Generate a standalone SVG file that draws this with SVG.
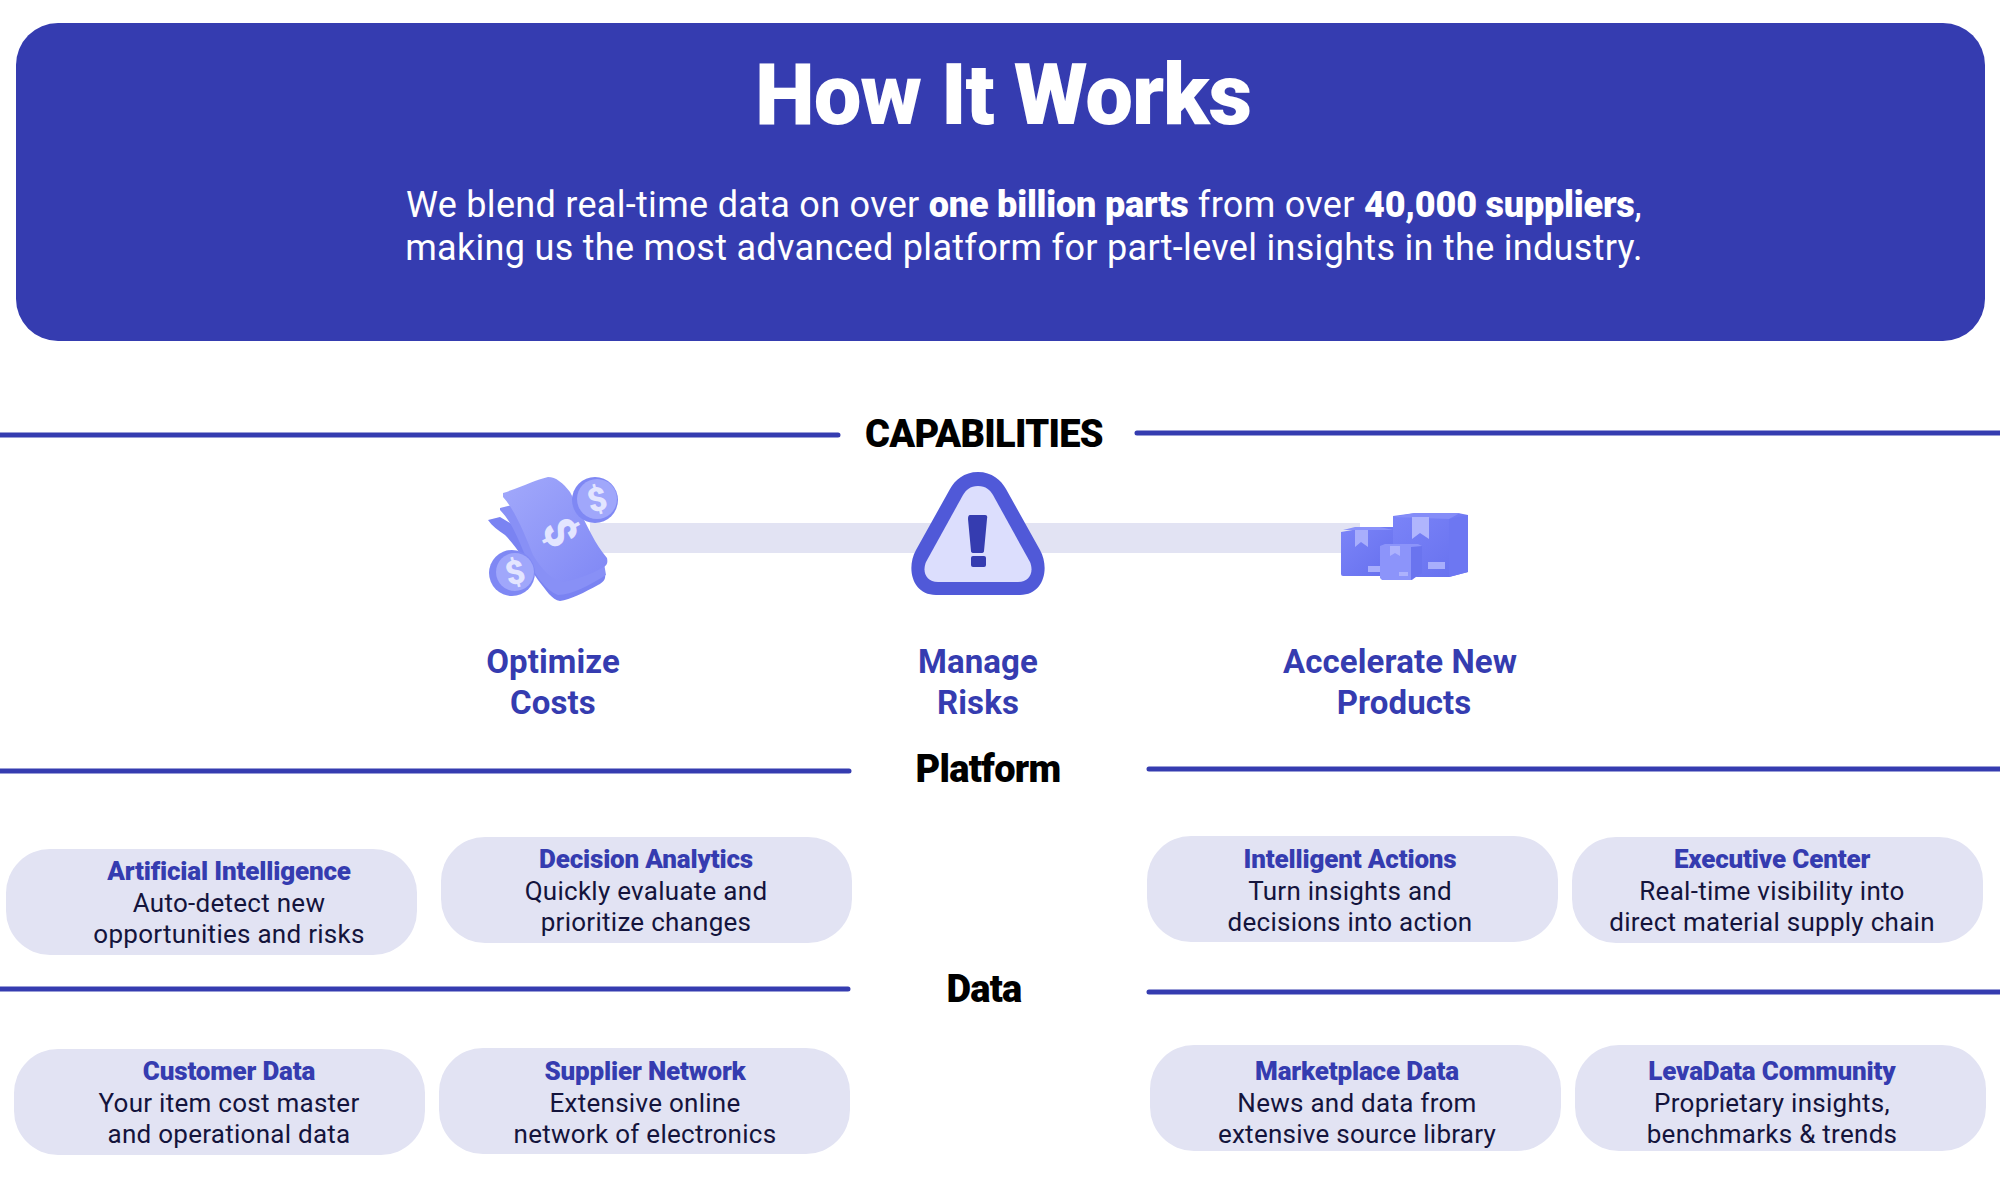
<svg xmlns="http://www.w3.org/2000/svg" width="2000" height="1183" viewBox="0 0 2000 1183">
<defs>
<style>
text{font-family:Roboto,"Liberation Sans",sans-serif;text-anchor:middle}
.sec{font-size:38px;font-weight:900;fill:#000;letter-spacing:-.7px}
.cap{font-size:33px;font-weight:700;fill:#353cb0;letter-spacing:.1px}
.t{font-size:26px;font-weight:900;fill:#353cb0;letter-spacing:-.17px}
.d{font-size:26px;fill:#14143c;letter-spacing:.27px}
.pill{fill:#e2e3f3}
.ln{stroke:#353cb0;stroke-width:5;fill:none;stroke-linecap:round}
.coin{fill:#7f88f4}.coin2{fill:#a0a7fb}
.dl{fill:#e3e5ff;font-weight:900}
.b{font-weight:900;letter-spacing:-.2px}
</style>
<linearGradient id="note" x1="0" y1="0" x2="1" y2="1"><stop offset="0" stop-color="#a2a9fb"/><stop offset="1" stop-color="#8088f5"/></linearGradient>
<linearGradient id="box" x1="0" y1="0" x2="1" y2="1"><stop offset="0" stop-color="#7b84f8"/><stop offset="1" stop-color="#6670ee"/></linearGradient>
</defs>
<rect id="header" x="16" y="23" width="1969" height="318" rx="42" fill="#353cb0"/>
<g id="header-text">
<text x="1003" y="124" font-size="85" font-weight="900" fill="#fff" letter-spacing="-1.1">How It Works</text>
<text x="1024" y="217" font-size="36" fill="#fff" letter-spacing=".3">We blend real-time data on over <tspan class="b">one billion parts</tspan> from over <tspan class="b">40,000 suppliers</tspan>,</text>
<text x="1024" y="260" font-size="36" fill="#fff" letter-spacing=".3">making us the most advanced platform for part-level insights in the industry.</text>
</g>
<g id="connectors">
<path class="ln" d="M0 435H838M1137 433H2000M0 771H849M1149 769H2000M0 989H848M1149 992H2000"/>
<rect x="590" y="523" width="770" height="30" fill="#e2e3f3"/>
</g>
<text class="sec" x="984" y="447">CAPABILITIES</text>
<text class="sec" x="988" y="782">Platform</text>
<text class="sec" x="984" y="1002">Data</text>
<g id="optimize-costs">
<path d="M488 520L500 517L590 570L605 574C606 580 603 582 598 585C585 592 570 600 560 601C552 600 546 590 538 580C528 565 515 545 505 535C498 530 492 526 488 520Z" fill="#7a83f2"/>
<path d="M500 508L512 505L604 563L606 575C590 585 572 595 558 595C545 590 535 575 525 555C517 535 510 520 500 510Z" fill="#8890f6"/>
<path d="M503 493C525 486 535 480 548 477C556 477 563 483 570 492C585 520 592 540 607 558C608 563 607 565 604 567C590 575 575 580 563 582C552 580 542 570 533 555C525 535 515 510 503 497Z" fill="url(#note)"/>
<text class="dl" x="559" y="547" font-size="44" transform="rotate(62 559 533)">$</text>
<circle cx="595" cy="500" r="23" class="coin"/><circle cx="597" cy="499" r="20" class="coin2"/><text class="dl" x="597" y="511" font-size="33" transform="rotate(-15 597 499)">$</text>
<circle cx="512" cy="573" r="23" class="coin"/><circle cx="515" cy="572" r="19" class="coin2"/><text class="dl" x="515" y="584" font-size="33" transform="rotate(-15 515 572)">$</text>
<text class="cap" x="553" y="673">Optimize</text>
<text class="cap" x="553" y="714">Costs</text>
</g>
<g id="manage-risks">
<path d="M978 472C992 472 1001 480 1006 489L1040 550C1050 568 1044 595 1020 595H936C912 595 906 568 916 550L950 489C955 480 964 472 978 472Z" fill="#5059d8"/>
<path d="M978 486C986 486 990 490 993 495L1030 562C1034 572 1030 582 1018 582H938C926 582 922 572 926 562L963 495C966 490 970 486 978 486Z" fill="#dcdefd"/>
<path d="M970 515H985Q988 515 987 519L984 551Q984 553 981 553H974Q971 553 971 551L968 519Q968 515 970 515Z" fill="#353cb0"/>
<rect x="971" y="556" width="15" height="11" rx="2" fill="#353cb0"/>
<text class="cap" x="978" y="673">Manage</text>
<text class="cap" x="978" y="714">Risks</text>
</g>
<g id="accelerate-new-products">
<path d="M1341 532L1370 527H1393V576H1343Q1341 576 1341 574Z" fill="url(#box)"/>
<path d="M1393 530L1380 527H1355L1343 530Z" fill="#8a92fa"/>
<path d="M1355 530H1368V547L1361 542L1355 547Z" fill="#a8aefc"/>
<rect x="1368" y="566" width="12" height="6" fill="#a8aefc"/>
<path d="M1393 516L1415 513H1458L1468 515V572L1449 577H1395Q1393 577 1393 575Z" fill="url(#box)"/>
<path d="M1449 519L1468 515V572L1449 577Z" fill="#6d77f2"/>
<path d="M1393 517L1415 513H1460L1449 519Z" fill="#858df8"/>
<path d="M1412 517H1429V539L1420 533L1412 539Z" fill="#b0b5fd"/>
<rect x="1428" y="562" width="17" height="7" fill="#a8aefc"/>
<path d="M1380 546L1385 544H1418L1422 546V572L1412 580H1382L1380 578Z" fill="#8c94fa"/>
<path d="M1411 547L1422 546V573L1411 580Z" fill="#6a74ef"/>
<path d="M1390 546H1400V556L1395 553L1390 556Z" fill="#adb2fd"/>
<rect x="1399" y="572" width="9" height="4" fill="#adb2fd"/>
<text class="cap" x="1400" y="673">Accelerate New</text>
<text class="cap" x="1404" y="714">Products</text>
</g>
<g id="artificial-intelligence"><rect class="pill" x="6" y="849" width="411" height="106" rx="44"/><text class="t" x="229" y="880">Artificial Intelligence</text><text class="d" x="229" y="912">Auto-detect new</text><text class="d" x="229" y="943">opportunities and risks</text></g>
<g id="decision-analytics"><rect class="pill" x="441" y="837" width="411" height="106" rx="44"/><text class="t" x="646" y="868">Decision Analytics</text><text class="d" x="646" y="900">Quickly evaluate and</text><text class="d" x="646" y="931">prioritize changes</text></g>
<g id="intelligent-actions"><rect class="pill" x="1147" y="836" width="411" height="106" rx="44"/><text class="t" x="1350" y="868">Intelligent Actions</text><text class="d" x="1350" y="900">Turn insights and</text><text class="d" x="1350" y="931">decisions into action</text></g>
<g id="executive-center"><rect class="pill" x="1572" y="837" width="411" height="106" rx="44"/><text class="t" x="1772" y="868">Executive Center</text><text class="d" x="1772" y="900">Real-time visibility into</text><text class="d" x="1772" y="931">direct material supply chain</text></g>
<g id="customer-data"><rect class="pill" x="14" y="1049" width="411" height="106" rx="44"/><text class="t" x="229" y="1080">Customer Data</text><text class="d" x="229" y="1112">Your item cost master</text><text class="d" x="229" y="1143">and operational data</text></g>
<g id="supplier-network"><rect class="pill" x="439" y="1048" width="411" height="106" rx="44"/><text class="t" x="645" y="1080">Supplier Network</text><text class="d" x="645" y="1112">Extensive online</text><text class="d" x="645" y="1143">network of electronics</text></g>
<g id="marketplace-data"><rect class="pill" x="1150" y="1045" width="411" height="106" rx="44"/><text class="t" x="1357" y="1080">Marketplace Data</text><text class="d" x="1357" y="1112">News and data from</text><text class="d" x="1357" y="1143">extensive source library</text></g>
<g id="levadata-community"><rect class="pill" x="1575" y="1045" width="411" height="106" rx="44"/><text class="t" x="1772" y="1080">LevaData Community</text><text class="d" x="1772" y="1112">Proprietary insights,</text><text class="d" x="1772" y="1143">benchmarks &amp; trends</text></g>
</svg>
